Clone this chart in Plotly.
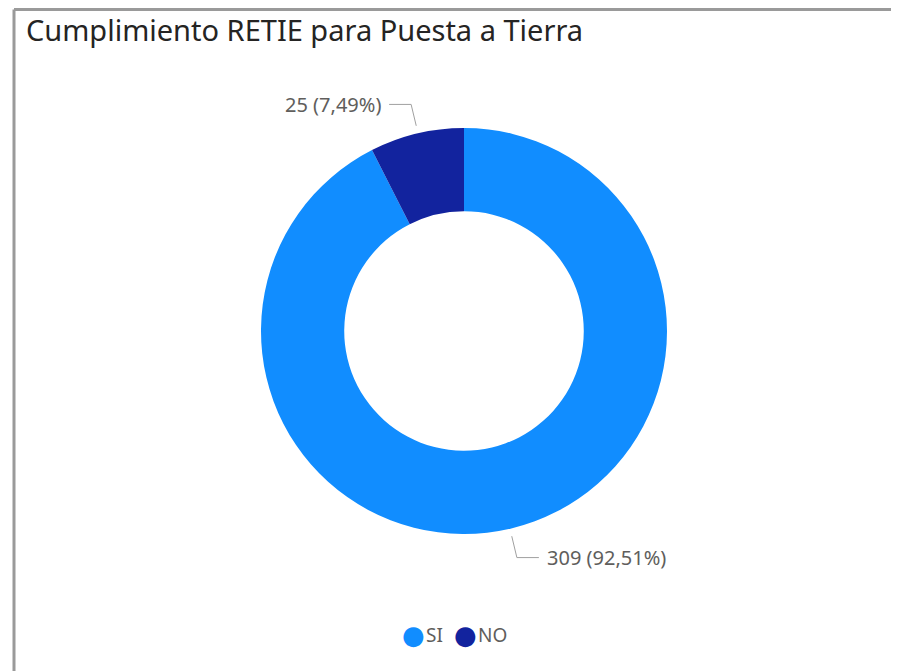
import math
import plotly.graph_objects as go

# data
categories = ["SI", "NO"]
counts = [309, 25]
colors = ["#118DFF", "#12239E"]

# page has an 8px body margin, so the figure is drawn 8px in
OFF = 8
W, H = 899 - OFF, 671 - OFF
cx, cy, R = 464 - OFF, 331 - OFF, 203  # pie centre / radius in px
RY = 209  # vertical reach used for the leader lines

total = sum(counts)
pct = [c / total * 100 for c in counts]
label_text = [f"{c} ({p:.2f}%)".replace(".", ",") for c, p in zip(counts, pct)]


def px(x, y):
    return x / W, 1 - y / H


fig = go.Figure()
fig.add_trace(go.Pie(
    labels=categories, values=counts, sort=False, direction="clockwise",
    rotation=0, hole=0.59, marker=dict(colors=colors, line=dict(width=0)),
    textinfo="none", hoverinfo="label+value+percent", showlegend=False,
    domain=dict(x=[(cx - R) / W, (cx + R) / W],
                y=[1 - (cy + R) / H, 1 - (cy - R) / H]),
))

# data labels with Power BI style leader lines
start = 0.0
shapes = []
annotations = []
for i, c in enumerate(counts):
    frac = c / total
    mid = (start + frac / 2) * 2 * math.pi
    start += frac
    ex = cx + (R + 2) * math.sin(mid)
    ey = cy - (RY + 2) * math.cos(mid)
    bx = cx + (R + 24) * math.sin(mid)
    by = cy - (RY + 24) * math.cos(mid)
    side = 1 if math.cos(mid) < 0 else -1
    hx = bx + side * 22
    x0, y0 = px(ex, ey)
    x1, y1 = px(bx, by)
    x2, y2 = px(hx, by)
    shapes.append(dict(type="path", xref="paper", yref="paper",
                       path=f"M {x0},{y0} L {x1},{y1} L {x2},{y2}",
                       line=dict(color="#A0A0A0", width=1)))
    annotations.append(dict(x=x2 + side * 6 / W, y=y2, xref="paper", yref="paper",
                            text=label_text[i], showarrow=False,
                            xanchor="left" if side > 0 else "right", yanchor="middle",
                            font=dict(size=20, color="#605E5C")))

# legend (round markers, tight spacing like Power BI)
leg_y = 1 - (635 - OFF) / H
leg_x = [413 - OFF, 465 - OFF]
for cat, col, lx in zip(categories, colors, leg_x):
    annotations.append(dict(x=lx / W, y=leg_y, xref="paper", yref="paper", text="●",
                            showarrow=False, xanchor="center", yanchor="middle",
                            font=dict(size=26, color=col, family="DejaVu Sans")))
    annotations.append(dict(x=(lx + 11) / W, y=leg_y, xref="paper", yref="paper", text=cat,
                            showarrow=False, xanchor="left", yanchor="middle",
                            font=dict(size=19, color="#605E5C")))

# visual frame (top edge as high as the page allows)
top = 1 - 1.5 / H
shapes.append(dict(type="line", xref="paper", yref="paper", x0=(14 - OFF) / W, x1=1.05,
                   y0=top, y1=top, line=dict(color="#9A9A9A", width=3)))
shapes.append(dict(type="line", xref="paper", yref="paper", x0=(14 - OFF) / W, x1=(14 - OFF) / W,
                   y0=top, y1=-0.05, line=dict(color="#9A9A9A", width=3)))

annotations.append(dict(x=(24 - OFF) / W, y=1 - (30 - OFF) / H, xref="paper", yref="paper",
                        text="Cumplimiento RETIE para Puesta a Tierra", showarrow=False,
                        xanchor="left", yanchor="middle",
                        font=dict(size=29, color="#252423", family="Noto Sans")))

fig.update_layout(
    width=W, height=H, margin=dict(l=0, r=0, t=0, b=0),
    paper_bgcolor="white", plot_bgcolor="white",
    font=dict(family="Noto Sans", color="#605E5C"),
    showlegend=False,
    shapes=shapes, annotations=annotations,
)

fig.write_html("out.html", config={"displayModeBar": False})
